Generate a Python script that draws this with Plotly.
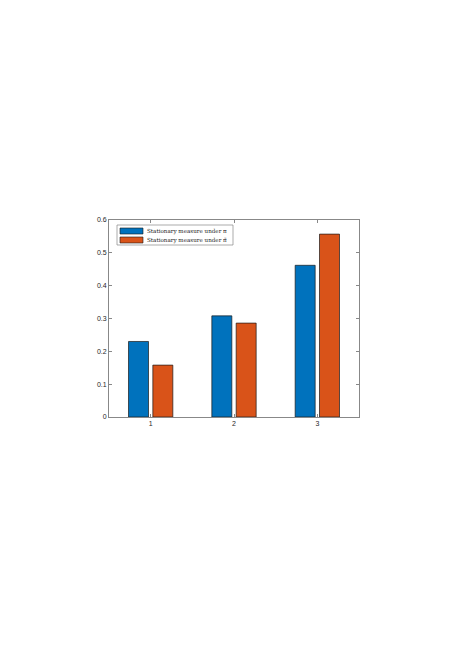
import plotly.graph_objects as go

categories = [1, 2, 3]
pi_values = [0.230, 0.308, 0.462]
pitilde_values = [0.158, 0.286, 0.557]
series_names = ["Stationary measure under π", "Stationary measure under π̃"]
y_ticks = [0, 0.1, 0.2, 0.3, 0.4, 0.5, 0.6]
y_tick_labels = ["0", "0.1", "0.2", "0.3", "0.4", "0.5", "0.6"]

colors = ["#0072BD", "#D95319"]

fig = go.Figure()
for vals, name, c in zip([pi_values, pitilde_values], series_names, colors):
    fig.add_trace(go.Bar(x=categories, y=vals, name=name, marker=dict(color=c, line=dict(color="#1a1a1a", width=0.7)),
                         showlegend=False))

# custom MATLAB-style legend (paper coords)
W, H = 457, 646
L, R, T, B = 109, 359, 220, 417
def px(x): return (x - L) / (R - L)
def py(y): return (B - y) / (B - T)

shapes = [dict(type="rect", xref="paper", yref="paper", x0=px(117), x1=px(233), y0=py(245), y1=py(225),
               line=dict(color="#888888", width=0.7), fillcolor="white", layer="above")]
annotations = []
for i, (name, c) in enumerate(zip(series_names, colors)):
    y0, y1 = 228 + i * 9, 234 + i * 9
    shapes.append(dict(type="rect", xref="paper", yref="paper", x0=px(120), x1=px(143), y0=py(y1), y1=py(y0),
                       line=dict(color="#1a1a1a", width=0.6), fillcolor=c, layer="above"))
    annotations.append(dict(xref="paper", yref="paper", x=px(144.5), y=py((y0 + y1) / 2), text=name, showarrow=False,
                            xanchor="left", yanchor="middle", font=dict(family="DejaVu Serif", size=5.6, color="#1a1a1a")))

fig.update_layout(
    width=W, height=H,
    margin=dict(l=L, r=W - R, t=T, b=H - B, pad=0),
    paper_bgcolor="white", plot_bgcolor="white",
    barmode="group", bargap=0.416, bargroupgap=0.178,
    shapes=shapes, annotations=annotations,
    font=dict(family="Liberation Sans", size=7, color="#262626"),
    xaxis=dict(range=[0.5, 3.5], tickvals=categories, ticktext=[str(c) for c in categories],
               showline=True, linecolor="#888888", linewidth=0.8, mirror="allticks",
               ticks="inside", ticklen=3, tickcolor="#888888", tickwidth=0.8, showgrid=False, zeroline=False),
    yaxis=dict(range=[0, 0.6], tickvals=y_ticks, ticktext=y_tick_labels,
               showline=True, linecolor="#888888", linewidth=0.8, mirror="allticks",
               ticks="inside", ticklen=3, tickcolor="#888888", tickwidth=0.8, showgrid=False, zeroline=False),
)

fig.write_html("out.html", config={"displayModeBar": False},
               post_script="document.body.style.margin='0';document.body.style.overflow='hidden';")
